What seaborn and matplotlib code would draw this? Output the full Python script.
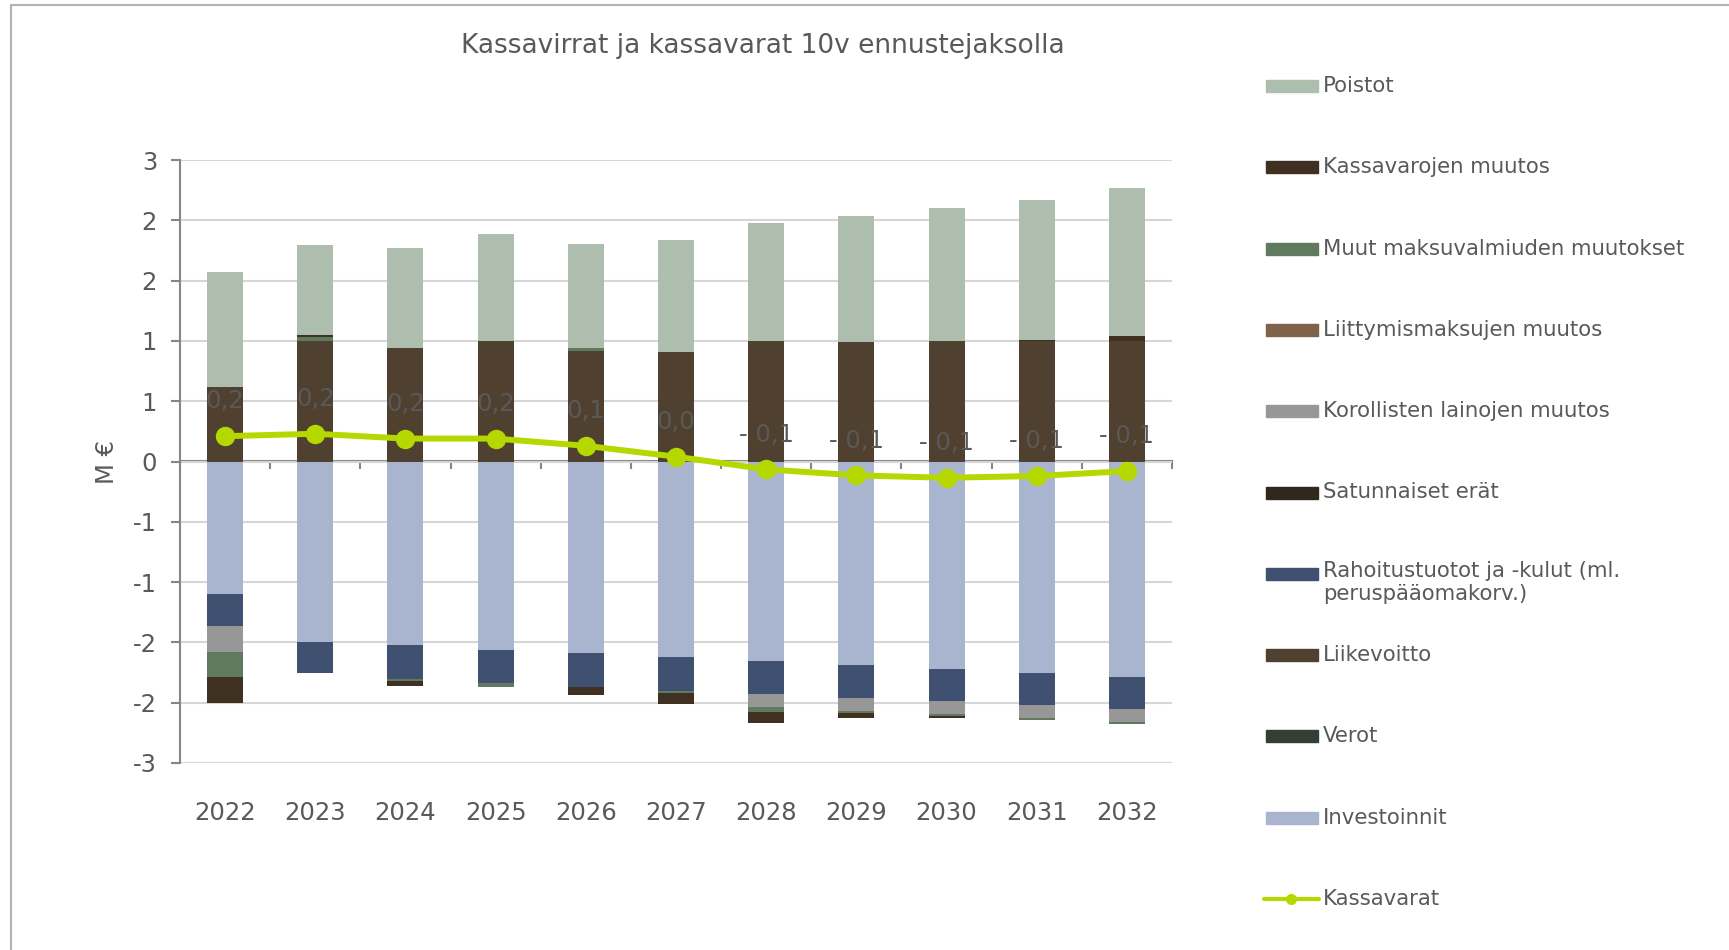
import math

import numpy as np
import seaborn as sns
import matplotlib.pyplot as plt
from matplotlib.lines import Line2D
from matplotlib.patches import Rectangle
from matplotlib.ticker import FuncFormatter


years = ['2022', '2023', '2024', '2025', '2026', '2027', '2028', '2029', '2030', '2031', '2032']

# M€ (Excel stacking order)
investoinnit = [-1.10, -1.50, -1.525, -1.56, -1.59, -1.625, -1.655, -1.69, -1.72, -1.755, -1.79]
verot = [0, 0, 0, 0, 0, 0, 0, 0, 0, 0, 0]
liikevoitto = [0.62, 1.00, 0.94, 1.00, 0.92, 0.91, 1.00, 0.99, 1.00, 1.00, 1.00]
rahoitus = [-0.26, -0.25, -0.28, -0.28, -0.28, -0.275, -0.275, -0.275, -0.265, -0.265, -0.26]
satunnaiset = [0, 0, 0, 0, 0, 0, 0, 0, 0, 0, 0]
korolliset = [-0.22, 0, 0, 0, 0, 0, -0.105, -0.10, -0.105, -0.105, -0.11]
liittymis = [0, 0, 0, 0, 0, 0, 0, 0, 0, 0, 0]
muut = [-0.21, 0.03, -0.015, -0.03, 0.025, -0.02, -0.04, -0.02, -0.02, -0.02, -0.02]
kassavarojen_muutos = [-0.21, 0.02, -0.045, 0.0, -0.065, -0.09, -0.09, -0.045, -0.02, 0.01, 0.04]
poistot = [0.95, 0.745, 0.83, 0.89, 0.855, 0.925, 0.98, 1.045, 1.10, 1.16, 1.225]
kassavarat = [0.21, 0.23, 0.19, 0.19, 0.13, 0.04, -0.065, -0.115, -0.135, -0.12, -0.08]

series = [
    ('Investoinnit', investoinnit, '#A9B5CE'),
    ('Verot', verot, '#333F33'),
    ('Liikevoitto', liikevoitto, '#4F4030'),
    ('Rahoitustuotot ja -kulut (ml.\nperuspääomakorv.)', rahoitus, '#3F5070'),
    ('Satunnaiset erät', satunnaiset, '#30271D'),
    ('Korollisten lainojen muutos', korolliset, '#979797'),
    ('Liittymismaksujen muutos', liittymis, '#7E634A'),
    ('Muut maksuvalmiuden muutokset', muut, '#5F7A5F'),
    ('Kassavarojen muutos', kassavarojen_muutos, '#403022'),
    ('Poistot', poistot, '#ADBEAE'),
]
line_color = '#B5D800'
text_color = '#595959'

W, H = 1729, 950


def fx(px):
    return px / W


def fy(py):
    return 1 - py / H


def excel_round(v, pos):
    r = math.floor(abs(v) + 0.5 + 1e-9)
    return f'-{r}' if v < -1e-9 and r != 0 else f'{r}'


def fmt_label(v):
    s = f'{abs(v):.1f}'.replace('.', ',')
    return f'- {s}' if round(v, 1) < 0 else s


sns.set_theme(style='white')
plt.rcParams['font.family'] = ['DejaVu Sans']

fig = plt.figure(figsize=(W / 100, H / 100), dpi=100)
ax = fig.add_axes([fx(180), fy(763), fx(1172) - fx(180), fy(160) - fy(763)])

x = np.arange(len(years))
pos_bottom = np.zeros(len(years))
neg_bottom = np.zeros(len(years))
for name, vals, color in series:
    vals = np.array(vals, dtype=float)
    bottom = np.where(vals >= 0, pos_bottom, neg_bottom)
    ax.bar(x, vals, width=0.4, bottom=bottom, color=color, linewidth=0, zorder=2)
    pos_bottom += np.clip(vals, 0, None)
    neg_bottom += np.clip(vals, None, 0)

sns.lineplot(x=x, y=kassavarat, ax=ax, color=line_color, linewidth=4.3, marker='o',
             markersize=14, markeredgewidth=0, zorder=4, legend=False)

for xi, v in zip(x, kassavarat):
    ax.annotate(fmt_label(v), (xi, v), xytext=(0, 25), textcoords='offset points',
                ha='center', va='center', fontsize=17.5, color=text_color, zorder=5)

ax.set_xlim(-0.5, len(years) - 0.5)
ax.set_ylim(-2.5, 2.5)
ax.set_yticks(np.arange(-2.5, 2.51, 0.5))
ax.yaxis.set_major_formatter(FuncFormatter(excel_round))
ax.grid(axis='y', color='#D6D6D6', linewidth=1.5, zorder=0)
ax.set_axisbelow(True)

ax.set_xticks(x)
ax.set_xticklabels(years)
ax.tick_params(axis='x', length=0, pad=27, labelsize=17.5, labelcolor=text_color)
ax.tick_params(axis='y', length=6.5, width=1.5, color='#868686', direction='out', pad=10,
               labelsize=17.5, labelcolor=text_color, left=True)

sns.despine(ax=ax, top=True, right=True, bottom=True)
ax.spines['left'].set_color('#868686')
ax.spines['left'].set_linewidth(1.5)

# category axis crossing at zero with ticks between categories
zero_axis = ax.secondary_xaxis(0.5)
zero_axis.set_xticks(np.arange(-0.5, len(years), 1.0))
zero_axis.set_xticklabels([])
zero_axis.tick_params(axis='x', direction='in', length=6, width=1.5, color='#868686')
for side in zero_axis.spines:
    zero_axis.spines[side].set_color('#868686')
    zero_axis.spines[side].set_linewidth(1.5)

ax.set_ylabel('M €', fontsize=17.5, color=text_color, labelpad=10)

fig.text(fx(763), fy(46), 'Kassavirrat ja kassavarat 10v ennustejaksolla',
         ha='center', va='center', fontsize=19, color=text_color)

# legend, top of the stack first
legend_items = [(name, color) for name, _, color in series[::-1]]
for i, (name, color) in enumerate(legend_items):
    yc = 86 + i * 81.3
    fig.add_artist(Rectangle((fx(1266), fy(yc + 6)), fx(52), 12 / H, color=color,
                             transform=fig.transFigure))
    if '\n' in name:
        fig.text(fx(1323), fy(yc - 13), name, ha='left', va='top', fontsize=15.3,
                 color=text_color, linespacing=1.2)
    else:
        fig.text(fx(1323), fy(yc), name, ha='left', va='center', fontsize=15.3,
                 color=text_color)
yc = 86 + len(legend_items) * 81.3
fig.add_artist(Line2D([fx(1264), fx(1319)], [fy(yc), fy(yc)], color=line_color,
                      linewidth=3, solid_capstyle='round', transform=fig.transFigure))
fig.add_artist(Line2D([fx(1291)], [fy(yc)], color=line_color, marker='o', markersize=8,
                      markeredgewidth=0, transform=fig.transFigure))
fig.text(fx(1323), fy(yc), 'Kassavarat', ha='left', va='center', fontsize=15.3,
         color=text_color)

# chart frame (top and left edges visible)
fig.add_artist(Line2D([fx(11), 1], [fy(4.5), fy(4.5)], color='#B3B3B3', linewidth=1.5,
                      transform=fig.transFigure))
fig.add_artist(Line2D([fx(11), fx(11)], [0, fy(4.5)], color='#B3B3B3', linewidth=1.5,
                      transform=fig.transFigure))

fig.savefig('out.png', dpi=100, facecolor='white')
